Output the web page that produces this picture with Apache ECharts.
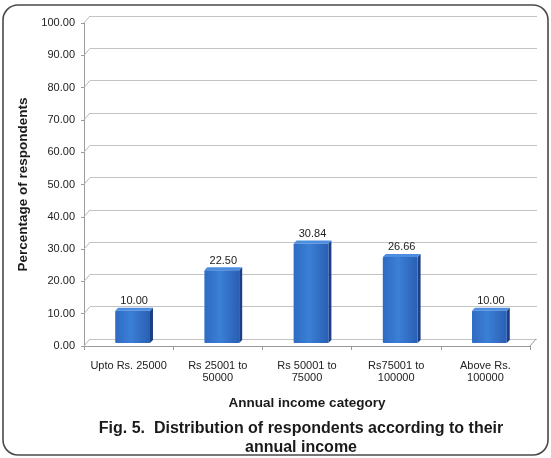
<!DOCTYPE html>
<html>
<head>
<meta charset="utf-8">
<script src="https://cdn.jsdelivr.net/npm/echarts@6/dist/echarts.min.js"></script>
<style>
  html, body { margin: 0; padding: 0; background: #fff; }
  #chart { width: 551px; height: 458px; }
</style>
</head>
<body>
<div id="chart"></div>
<script>
// Income bands and share of respondents (%)
const categories = ['Upto Rs. 25000', 'Rs 25001 to\n50000', 'Rs 50001 to\n75000', 'Rs75001 to\n100000', 'Above Rs.\n100000'];
const percentages = [10.00, 22.50, 30.84, 26.66, 10.00];
const yTickValues = [0, 10, 20, 30, 40, 50, 60, 70, 80, 90, 100];

const FONT = '"Liberation Sans", Arial, sans-serif';
const DEPTH_X = 6, DEPTH_Y = -7;   // offset of the back wall from the front plane

const chart = echarts.init(document.getElementById('chart'));

const frontFace = new echarts.graphic.LinearGradient(0, 0, 1, 0, [
  { offset: 0, color: '#2f6bc2' },
  { offset: 0.45, color: '#3b7fd6' },
  { offset: 1, color: '#2a5fb4' }
]);

chart.setOption({
  animation: false,
  backgroundColor: '#ffffff',
  title: {
    text: 'Fig. 5.  Distribution of respondents according to their\nannual income',
    left: 296, top: 414, textAlign: 'center',
    textStyle: { fontFamily: FONT, fontSize: 16, fontWeight: 'bold', color: '#1a1a1a', lineHeight: 19 }
  },
  graphic: [{
    type: 'rect', silent: true,
    shape: { x: 3, y: 5, width: 545, height: 450, r: 15 },
    style: { fill: 'none', stroke: '#4a4a4a', lineWidth: 1.6 }
  }],
  grid: [
    { left: 84, right: 21, top: 23, bottom: 112 },
    { left: 90, right: 14, top: 16, bottom: 119 }
  ],
  xAxis: [{
    type: 'category', gridIndex: 0, data: categories,
    axisLine: { lineStyle: { color: '#9a9a9a', width: 1 } },
    axisTick: { show: true, length: 4, lineStyle: { color: '#9a9a9a' } },
    axisLabel: { fontFamily: FONT, fontSize: 11, color: '#222', lineHeight: 12, margin: 14, interval: 0 },
    name: 'Annual income category', nameLocation: 'middle', nameGap: 50,
    nameTextStyle: { fontFamily: FONT, fontSize: 13.5, fontWeight: 'bold', color: '#1a1a1a' }
  }, {
    type: 'category', gridIndex: 1, data: categories,
    axisLine: { show: false }, axisTick: { show: false }, axisLabel: { show: false }
  }],
  yAxis: [{
    type: 'value', gridIndex: 0, min: 0, max: 100, interval: 10,
    axisLine: { show: true, lineStyle: { color: '#9a9a9a' } },
    axisTick: { show: true, length: 3, lineStyle: { color: '#9a9a9a' } },
    splitLine: { show: false },
    axisLabel: { fontFamily: FONT, fontSize: 11, color: '#222', margin: 9, formatter: v => v.toFixed(2) },
    name: 'Percentage of respondents', nameLocation: 'middle', nameGap: 51, nameRotate: 90,
    nameTextStyle: { fontFamily: FONT, fontSize: 13.5, fontWeight: 'bold', color: '#1a1a1a' }
  }, {
    type: 'value', gridIndex: 1, min: 0, max: 100, interval: 10,
    axisLine: { show: false }, axisTick: { show: false }, axisLabel: { show: false },
    splitLine: { show: true, lineStyle: { color: '#c4c4c4', width: 1 } }
  }],
  series: [{
    // side wall gridlines joining the front axis to the back wall
    type: 'custom', xAxisIndex: 0, yAxisIndex: 0, silent: true, z: 1,
    data: yTickValues.map(v => [0, v]),
    renderItem: function (params, api) {
      const cs = params.coordSys;
      const p = api.coord([0, api.value(1)]);
      const children = [{
        type: 'line',
        shape: { x1: cs.x, y1: p[1], x2: cs.x + DEPTH_X, y2: p[1] + DEPTH_Y },
        style: { stroke: '#b8b8b8', lineWidth: 1 }
      }];
      if (api.value(1) === 0) {
        children.push({
          type: 'line',
          shape: { x1: cs.x + cs.width, y1: p[1], x2: cs.x + cs.width + DEPTH_X, y2: p[1] + DEPTH_Y },
          style: { stroke: '#9a9a9a', lineWidth: 1 }
        });
      }
      return { type: 'group', children: children };
    }
  }, {
    // 3-D style bars, set half way into the floor depth, with value labels
    type: 'custom', xAxisIndex: 0, yAxisIndex: 0, z: 5,
    data: percentages.map((v, i) => [i, v]),
    renderItem: function (params, api) {
      const idx = api.value(0), val = api.value(1);
      const base = api.coord([idx, 0]);
      const top = api.coord([idx, val]);
      const band = api.size([1, 0])[0];
      const w = band * 0.39, dx = 3, dy = -3;
      const shiftX = 4, shiftY = -3;
      const x0 = base[0] + shiftX - w / 2;
      const yb = base[1] + shiftY, yt = top[1] + shiftY;
      return {
        type: 'group',
        children: [{
          type: 'polygon',
          shape: { points: [[x0 + w, yb], [x0 + w + dx, yb + dy], [x0 + w + dx, yt + dy], [x0 + w, yt]] },
          style: { fill: '#1c4088' }
        }, {
          type: 'polygon',
          shape: { points: [[x0, yt], [x0 + dx, yt + dy], [x0 + w + dx, yt + dy], [x0 + w, yt]] },
          style: { fill: '#4d8ee0' }
        }, {
          type: 'rect',
          shape: { x: x0, y: yt, width: w, height: yb - yt, r: 1 },
          style: { fill: frontFace }
        }, {
          type: 'text',
          style: {
            text: val.toFixed(2), x: x0 + (w + dx) / 2, y: yt + dy - 1,
            align: 'center', verticalAlign: 'bottom',
            font: '11px ' + FONT, fill: '#222'
          }
        }]
      };
    }
  }]
});
</script>
</body>
</html>
